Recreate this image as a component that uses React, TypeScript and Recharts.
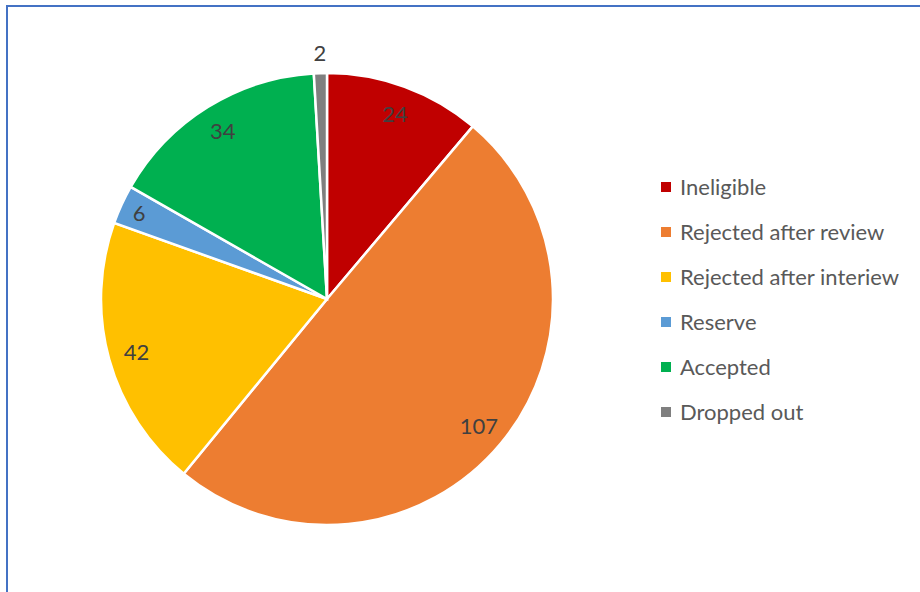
import { PieChart, Pie, Cell, Legend } from "recharts";

const categories = [
  "Ineligible",
  "Rejected after review",
  "Rejected after interiew",
  "Reserve",
  "Accepted",
  "Dropped out",
];
const counts = [24, 107, 42, 6, 34, 2];
const colors = ["#C00000", "#ED7D31", "#FFC000", "#5B9BD5", "#00B050", "#7F7F7F"];

const data = categories.map((name, i) => ({ name, value: counts[i] }));

const FONT = "Lato, 'Open Sans', sans-serif";
const RAD = Math.PI / 180;

// eslint-disable-next-line @typescript-eslint/no-explicit-any
function renderLabel({ cx, cy, midAngle, outerRadius, value }: any) {
  // tiny slices get their label outside, narrow ones near the rim
  let r = outerRadius * 0.875;
  if (value <= 2) r = outerRadius + 21;
  else if (value < 10) r = outerRadius * 0.915;
  const x = cx + r * Math.cos(-midAngle * RAD);
  const y = cy + r * Math.sin(-midAngle * RAD);
  return (
    <text
      x={x}
      y={y}
      fill="#404040"
      fontSize={22}
      fontFamily={FONT}
      textAnchor="middle"
      dominantBaseline="central"
    >
      {value}
    </text>
  );
}

function LegendList() {
  return (
    <div style={{ fontFamily: FONT }}>
      {categories.map((name, i) => (
        <div
          key={name}
          style={{ display: "flex", alignItems: "center", height: 45 }}
        >
          <span
            style={{
              width: 10,
              height: 10,
              background: colors[i],
              marginRight: 9,
              display: "inline-block",
            }}
          />
          <span style={{ fontSize: 22, color: "#595959", whiteSpace: "nowrap" }}>
            {name}
          </span>
        </div>
      ))}
    </div>
  );
}

export default function App() {
  return (
    <div
      style={{
        position: "fixed",
        left: 0,
        top: 0,
        width: 920,
        height: 592,
        overflow: "hidden",
        background: "#fff",
      }}
    >
      <div
        style={{
          position: "absolute",
          left: 6,
          top: 5,
          width: 980,
          height: 660,
          border: "2px solid #4472C4",
        }}
      />
      <div style={{ position: "absolute", left: 0, top: 0 }}>
        <PieChart width={920} height={592}>
          <Pie
            data={data}
            dataKey="value"
            nameKey="name"
            cx={322}
            cy={294}
            outerRadius={226}
            startAngle={90}
            endAngle={-270}
            stroke="#fff"
            strokeWidth={2.5}
            label={renderLabel}
            labelLine={false}
            isAnimationActive={false}
          >
            {data.map((d, i) => (
              <Cell key={d.name} fill={colors[i]} />
            ))}
          </Pie>
          <Legend
            layout="vertical"
            align="right"
            verticalAlign="middle"
            content={<LegendList />}
            wrapperStyle={{ left: 661, top: 164, right: "auto", width: 259 }}
          />
        </PieChart>
      </div>
    </div>
  );
}
